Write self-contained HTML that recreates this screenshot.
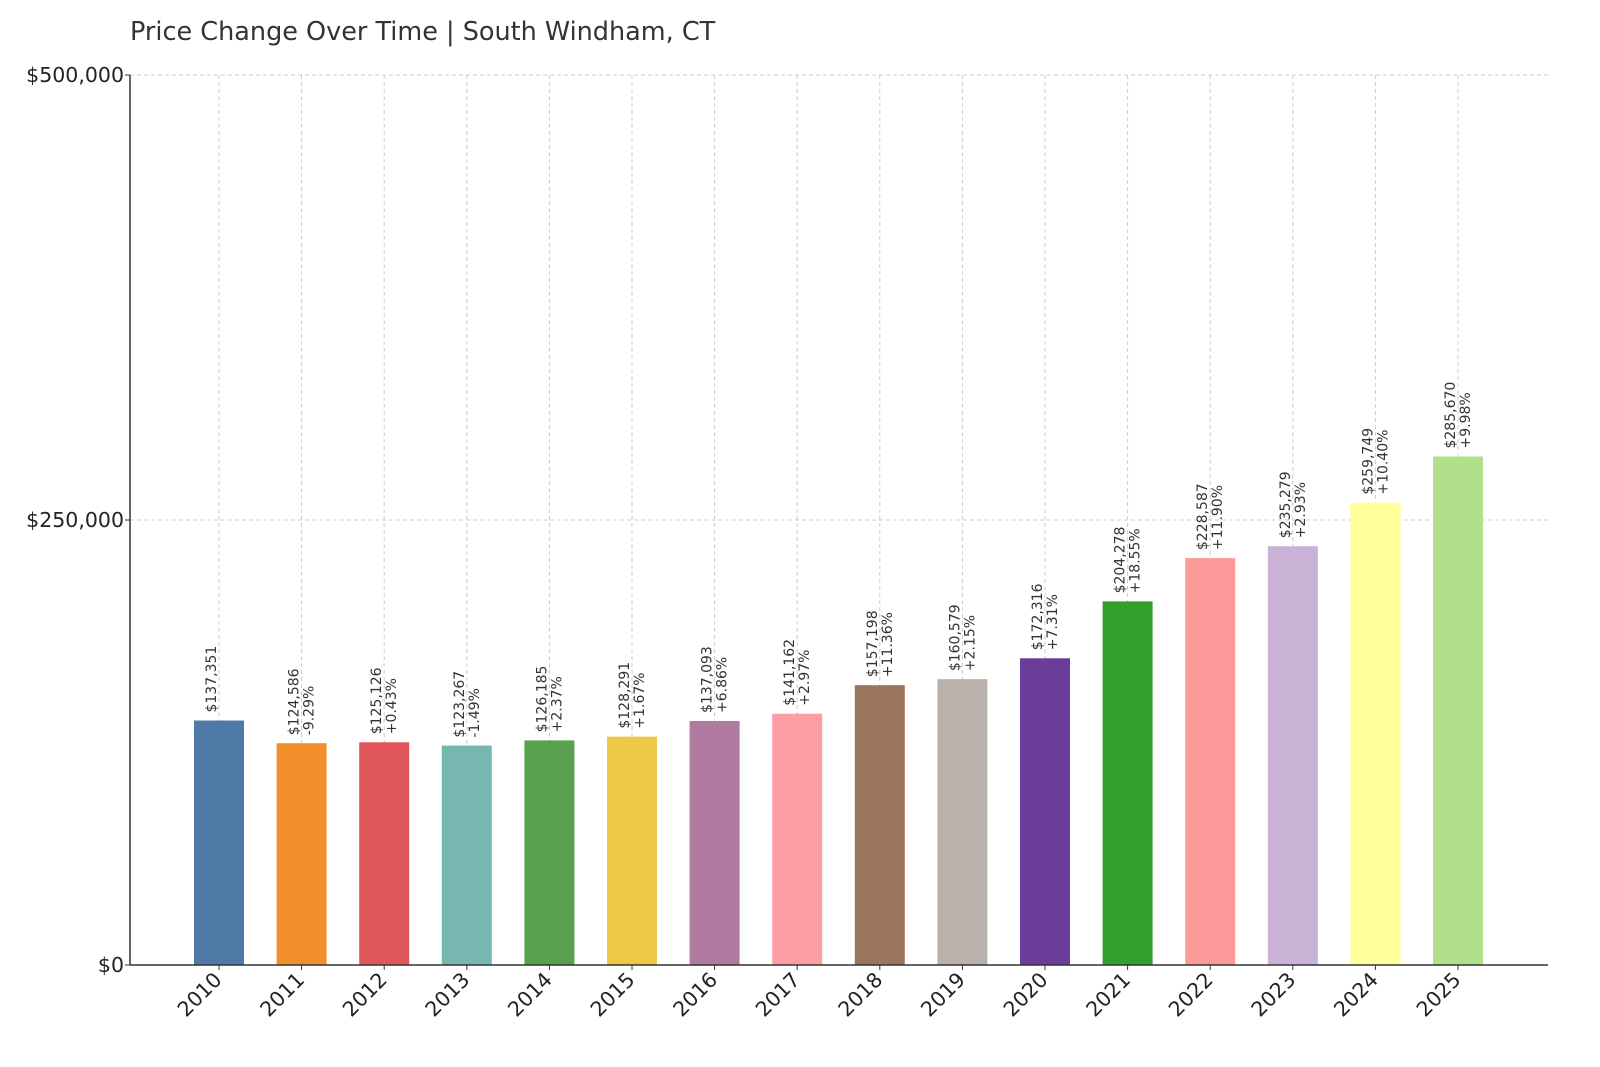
<!DOCTYPE html>
<html><head><meta charset="utf-8"><style>
html,body{margin:0;padding:0;background:#fff;width:1600px;height:1067px;overflow:hidden;}
svg{display:block;font-family:"DejaVu Sans","Liberation Sans",sans-serif;}
</style></head><body>
<svg id="chart" width="1600" height="1067" viewBox="0 0 1600 1067">
<rect width="1600" height="1067" fill="#fff"/>
<text x="130" y="40" font-size="25.5" fill="#333">Price Change Over Time | South Windham, CT</text>
<g id="grid"></g><g id="bars"></g><g id="labels"></g><g id="axes"></g>
</svg>
<script>
const years=["2010","2011","2012","2013","2014","2015","2016","2017","2018","2019","2020","2021","2022","2023","2024","2025"];
const prices=[137351,124586,125126,123267,126185,128291,137093,141162,157198,160579,172316,204278,228587,235279,259749,285670];
const changes=["","-9.29%","+0.43%","-1.49%","+2.37%","+1.67%","+6.86%","+2.97%","+11.36%","+2.15%","+7.31%","+18.55%","+11.90%","+2.93%","+10.40%","+9.98%"];
const yTicks=[0,250000,500000];
const yTickLabels=["$0","$250,000","$500,000"];
const colors=["#4e79a7","#f28e2b","#e15759","#76b7b2","#59a14f","#edc948","#b07aa1","#ff9da7","#9c755f","#bab0ac","#6a3d9a","#33a02c","#fb9a99","#cab2d6","#ffff99","#b2df8a"];
const NS="http://www.w3.org/2000/svg";
const L=130,R=1548,T=75,B=965,first=219,step=82.6,bw=50;
const y=v=>B-(v/500000)*(B-T);
const x=i=>first+i*step;
function mk(p,tag,a){const e=document.createElementNS(NS,tag);for(const k in a)e.setAttribute(k,a[k]);p.appendChild(e);return e;}
const g=document.getElementById('grid'),bg=document.getElementById('bars'),lg=document.getElementById('labels'),ag=document.getElementById('axes');
yTicks.forEach((v,i)=>{
 if(v>0){const l=mk(g,'line',{x1:L,x2:R,y1:y(v),y2:y(v),stroke:'#ccc','stroke-dasharray':'4,3'});
 
 }
 const t=mk(ag,'text',{x:L-6,y:y(v)+7,'text-anchor':'end','font-size':20.5,fill:'#222'});t.textContent=yTickLabels[i];
 
 
 mk(ag,'line',{x1:L-5,x2:L,y1:y(v),y2:y(v),stroke:'#333'});
});
years.forEach((yr,i)=>{
 const cx=x(i);
 const gl=mk(g,'line',{x1:cx,x2:cx,y1:T,y2:B,stroke:'#ccc','stroke-dasharray':'4,3'});
 
 
 const r=mk(bg,'rect',{x:cx-bw/2,y:y(prices[i]),width:bw,height:B-y(prices[i]),fill:colors[i]});
 
 
 const ty=y(prices[i])-8;
 const t=mk(lg,'text',{transform:`translate(${cx},${ty}) rotate(-90)`,'font-size':14,fill:'#333'});
 
 
 const t1=mk(t,'tspan',{x:0,y:-3});t1.textContent='$'+prices[i].toLocaleString('en-US');
 if(changes[i]){const t2=mk(t,'tspan',{x:0,y:12});t2.textContent=changes[i];}
 mk(ag,'line',{x1:cx,x2:cx,y1:B,y2:B+5,stroke:'#333'});
 const xl=mk(ag,'text',{transform:`translate(${cx+4},${B+16}) rotate(-45)`,'text-anchor':'end','font-size':20.5,fill:'#222'});
 xl.textContent=yr;
 
 
});
const ya=mk(ag,'line',{x1:L,x2:L,y1:T,y2:B,stroke:'#333','stroke-width':1.5});


const xa=mk(ag,'line',{x1:L,x2:R,y1:B,y2:B,stroke:'#333','stroke-width':1.5});


</script>
</body></html>
